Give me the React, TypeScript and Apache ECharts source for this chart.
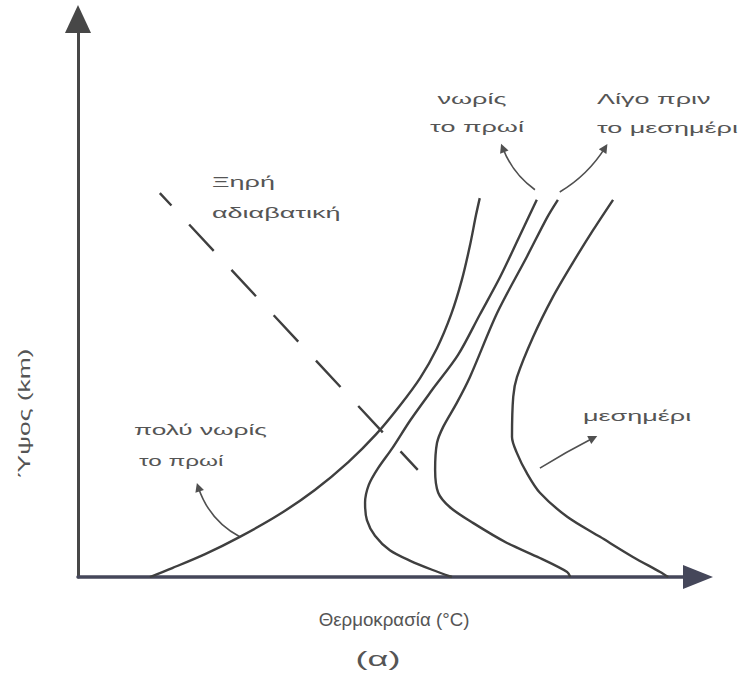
import React, { useEffect, useRef } from "react";
import * as echarts from "echarts";

// Abstract units: temperature (x) 0..100, height (y) 0..100
const veryEarlyMorning: number[][] = [
  [11.6, 0], [15.2, 1.6], [20.5, 4.1], [26.1, 7.2], [32.3, 11.1], [38.2, 15.6],
  [43.6, 20.6], [48.1, 25.6], [51.9, 30.7], [55.2, 35.7], [57.9, 41.0],
  [60.2, 47.1], [61.9, 53.2], [63.2, 59.3], [64.2, 64.9], [64.8, 67.9],
];
const earlyMorning: number[][] = [
  [60.3, 0], [57.1, 1.3], [53.6, 2.9], [50.3, 4.8], [47.9, 7.4], [46.6, 10.2],
  [46.3, 13.3], [46.9, 16.5], [48.4, 19.5], [50.7, 23.1], [53.6, 28.1],
  [57.1, 33.5], [61.3, 39.8], [64.8, 47.0], [68.1, 53.8], [71.1, 60.8], [74.0, 67.6],
];
const beforeNoon: number[][] = [
  [79.4, 0], [78.9, 0.9], [74.5, 3.4], [69.2, 6.1], [63.7, 9.7], [60.0, 12.5],
  [58.1, 15.1], [57.6, 19.2], [57.9, 24.0], [58.9, 26.9], [61.1, 31.2],
  [63.2, 35.8], [67.6, 47.3], [72.4, 57.4], [75.7, 64.5], [77.4, 67.6],
];
const noon: number[][] = [
  [95.2, 0], [93.9, 0.9], [89.5, 3.6], [84.2, 7.2], [78.9, 10.8], [74.5, 15.1],
  [72.4, 18.6], [70.8, 22.2], [70.0, 25.1], [70.2, 32.3], [70.8, 35.8],
  [73.4, 43.0], [76.6, 50.2], [79.8, 56.3], [83.1, 62.2], [86.3, 67.6],
];
const dryAdiabatic: number[][] = [
  [13.2, 68.8], [54.8, 19.2],
];

// Annotation arrows: from (on the curve) -> to (arrowhead), curveness
const annotationArrows = [
  { from: [26.1, 7.2], to: [19.4, 16.1], curve: 0.2 },
  { from: [73.7, 69.4], to: [68.5, 76.9], curve: 0.15 },
  { from: [77.7, 69.0], to: [85.0, 76.9], curve: -0.12 },
  { from: [74.5, 19.5], to: [83.1, 24.9], curve: 0.02 },
];

const labelTexts = {
  dry: ["Ξηρή", "αδιαβατική"],
  early: ["νωρίς", "το πρωί"],
  beforeNoon: ["Λίγο πριν", "το μεσημέρι"],
  veryEarly: ["πολύ νωρίς", "το πρωί"],
  noon: "μεσημέρι",
  yName: "Ύψος (km)",
  xName: "Θερμοκρασία (°C)",
  caption: "(α)",
};

const FONT = "'Liberation Sans', Arial, sans-serif";
const CURVE_COLOR = "#3f3f3f";
const TEXT_COLOR = "#555";

function text(
  str: string, x: number, y: number, align: string,
  size = 15, scaleX = 1.8, rotation = 0
) {
  return {
    type: "text",
    x,
    y,
    rotation,
    scaleX,
    scaleY: 1,
    silent: true,
    style: {
      text: str,
      fill: TEXT_COLOR,
      fontSize: size,
      fontFamily: FONT,
      align,
      verticalAlign: "middle",
      textAlign: align,
      textVerticalAlign: "middle",
    },
  };
}

export default function App() {
  const ref = useRef<HTMLDivElement>(null);
  useEffect(() => {
    if (!ref.current) return;
    const chart = echarts.init(ref.current, null, { renderer: "svg" });
    const curve = (name: string, data: number[][]) => ({
      name,
      type: "line",
      data,
      smooth: 0.3,
      symbol: "none",
      silent: true,
      lineStyle: { color: CURVE_COLOR, width: 2.4 },
    });
    chart.setOption({
      animation: false,
      backgroundColor: "#ffffff",
      grid: { left: 78, right: 44, top: 19, bottom: 98, containLabel: false },
      xAxis: {
        type: "value",
        min: 0,
        max: 100,
        axisLine: {
          show: true,
          onZero: false,
          symbol: ["none", "triangle"],
          symbolSize: [24, 30],
          lineStyle: { color: "#45475a", width: 3.5 },
        },
        axisTick: { show: false },
        axisLabel: { show: false },
        splitLine: { show: false },
      },
      yAxis: {
        type: "value",
        min: 0,
        max: 100,
        axisLine: {
          show: true,
          onZero: false,
          symbol: ["none", "triangle"],
          symbolSize: [26, 28],
          lineStyle: { color: "#474747", width: 3 },
        },
        axisTick: { show: false },
        axisLabel: { show: false },
        splitLine: { show: false },
      },
      series: [
        curve("πολύ νωρίς το πρωί", veryEarlyMorning),
        curve("νωρίς το πρωί", earlyMorning),
        curve("Λίγο πριν το μεσημέρι", beforeNoon),
        curve("μεσημέρι", noon),
        {
          name: "Ξηρή αδιαβατική",
          type: "line",
          data: dryAdiabatic,
          symbol: "none",
          silent: true,
          lineStyle: { color: CURVE_COLOR, width: 2.4, type: [36, 26], dashOffset: 19 },
        },
        {
          name: "arrows",
          type: "lines",
          coordinateSystem: "cartesian2d",
          silent: true,
          symbol: ["none", "triangle"],
          symbolSize: [8, 9],
          lineStyle: { color: "#505050", width: 1.6, opacity: 1 },
          data: annotationArrows.map((a) => ({
            coords: [a.from, a.to],
            lineStyle: { curveness: a.curve },
          })),
        },
      ],
      graphic: [
        text(labelTexts.dry[0], 212, 182, "left"),
        text(labelTexts.dry[1], 212, 213, "left"),
        text(labelTexts.early[0], 472, 99, "center"),
        text(labelTexts.early[1], 477, 127, "center"),
        text(labelTexts.beforeNoon[0], 597, 99, "left"),
        text(labelTexts.beforeNoon[1], 597, 128, "left"),
        text(labelTexts.veryEarly[0], 134, 430, "left", 15, 1.75),
        text(labelTexts.veryEarly[1], 139, 461, "left", 15, 1.62),
        text(labelTexts.noon, 583, 416, "left"),
        text(labelTexts.yName, 25, 413, "center", 16, 1.65, Math.PI / 2),
        text(labelTexts.xName, 394, 620, "center", 18, 1.04),
        text(labelTexts.caption, 378, 659, "center", 20, 1.8),
      ],
    });
    return () => chart.dispose();
  }, []);
  return (
    <div
      ref={ref}
      style={{ position: "fixed", left: 0, top: 0, width: 742, height: 675, background: "#fff" }}
    />
  );
}
